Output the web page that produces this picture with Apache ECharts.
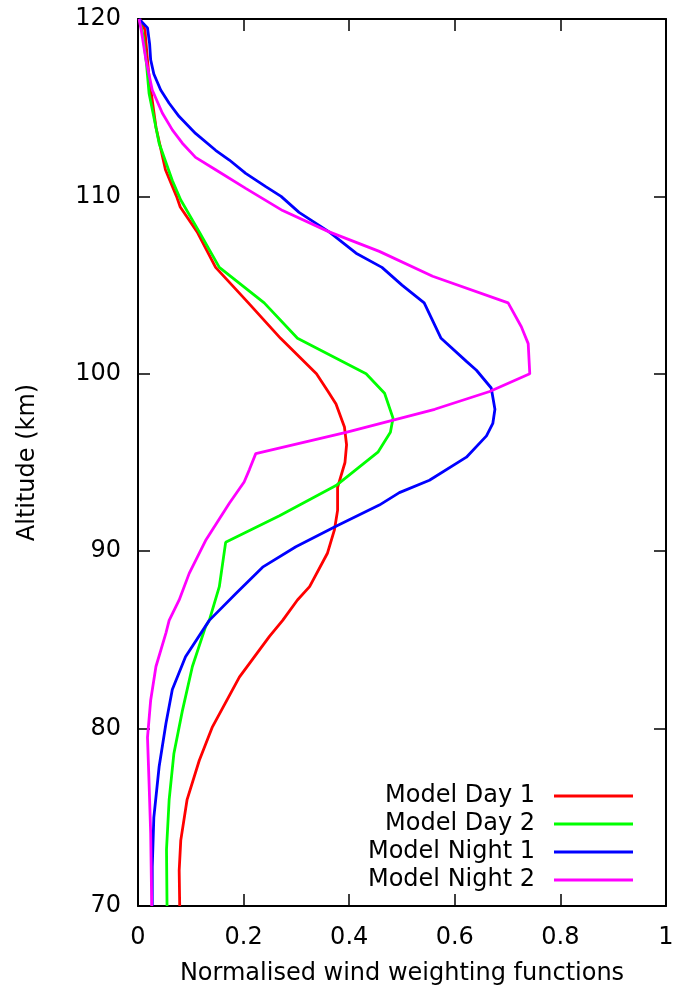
<!DOCTYPE html>
<html>
<head>
<meta charset="utf-8">
<script src="https://cdn.jsdelivr.net/npm/echarts@6/dist/echarts.min.js"></script>
<style>
  html, body { margin: 0; padding: 0; background: #fff; }
  #chart { width: 680px; height: 989px; }
</style>
</head>
<body>
<div id="chart"></div>
<script>
// Wind weighting function profiles: altitude (km) and normalised weight
const seriesNames = ['Model Day 1', 'Model Day 2', 'Model Night 1', 'Model Night 2'];
const seriesColors = ['#ff0000', '#00ff00', '#0000ff', '#ff00ff'];

const day1Alt = [120, 119.4, 118, 116.7, 113.9, 111.5, 110, 109.4, 108, 106, 104, 102, 100, 99, 98.3, 97, 96, 95, 93.6, 92.3, 91.2, 89.9, 88, 87.25, 86.1, 85.2, 82.9, 80.1, 78.2, 76, 73.7, 72, 70];
const day1Val = [0.004, 0.013, 0.017, 0.021, 0.034, 0.052, 0.073, 0.08, 0.112, 0.147, 0.209, 0.27, 0.338, 0.36, 0.375, 0.391, 0.395, 0.392, 0.378, 0.378, 0.372, 0.359, 0.325, 0.302, 0.274, 0.249, 0.192, 0.141, 0.116, 0.093, 0.081, 0.078, 0.079];

const day2Alt = [120, 119, 117.5, 115.8, 113, 110.9, 109.8, 108, 106, 104, 102, 100, 98.9, 97.5, 96.7, 95.6, 93.7, 92, 90.5, 88, 86.1, 85.75, 83.5, 81, 78.6, 76, 73.2, 70];
const day2Val = [0.003, 0.01, 0.016, 0.021, 0.04, 0.065, 0.081, 0.116, 0.154, 0.239, 0.302, 0.432, 0.467, 0.483, 0.478, 0.455, 0.375, 0.268, 0.166, 0.154, 0.135, 0.128, 0.103, 0.084, 0.068, 0.059, 0.054, 0.055];

const night1Alt = [120, 119.5, 118.6, 117.7, 116.9, 116, 115.25, 114.5, 113.55, 112.6, 112.05, 111.3, 110.55, 110, 109.1, 108, 106.8, 106, 105, 104, 102, 100.7, 100.2, 99.2, 98, 97.2, 96.5, 95.3, 94, 93.3, 92.6, 91.4, 90.25, 89.1, 87.6, 86.1, 84.05, 82.2, 80.3, 77.85, 75, 72.2, 70];
const night1Val = [0.002, 0.018, 0.022, 0.024, 0.03, 0.043, 0.059, 0.078, 0.109, 0.147, 0.173, 0.204, 0.242, 0.271, 0.305, 0.362, 0.413, 0.462, 0.5, 0.542, 0.574, 0.622, 0.641, 0.669, 0.676, 0.672, 0.66, 0.622, 0.552, 0.495, 0.457, 0.375, 0.299, 0.236, 0.185, 0.135, 0.09, 0.065, 0.053, 0.04, 0.03, 0.027, 0.027];

const night2Alt = [120, 119.4, 117.7, 116, 114.7, 113.75, 113, 112.2, 111.5, 110.45, 109.2, 108, 106.9, 105.5, 104, 102.65, 101.7, 100, 99, 98, 96.7, 95.5, 94.6, 93.9, 92.7, 90.6, 88.75, 87.25, 86.1, 85.4, 83.5, 81.6, 79.5, 76.9, 74.1, 70];
const night2Val = [0.002, 0.006, 0.015, 0.027, 0.046, 0.065, 0.084, 0.109, 0.147, 0.204, 0.274, 0.362, 0.457, 0.558, 0.701, 0.726, 0.739, 0.742, 0.666, 0.562, 0.394, 0.223, 0.211, 0.201, 0.173, 0.128, 0.097, 0.078, 0.059, 0.053, 0.034, 0.024, 0.018, 0.021, 0.024, 0.026];

const xTicks = [0, 0.2, 0.4, 0.6, 0.8, 1];
const yTicks = [70, 80, 90, 100, 110, 120];

const profiles = [
  [day1Alt, day1Val],
  [day2Alt, day2Val],
  [night1Alt, night1Val],
  [night2Alt, night2Val]
];

const FONT = 'DejaVu Sans';
const textBase = { fontFamily: FONT, fontSize: 24, color: '#000' };
const frameLine = { show: true, onZero: false, lineStyle: { color: '#000', width: 2 } };
const innerTick = { show: true, inside: true, length: 12, lineStyle: { color: '#000', width: 1.5 } };

const chart = echarts.init(document.getElementById('chart'), null, { renderer: 'canvas' });

const xBase = {
  type: 'value', min: xTicks[0], max: xTicks[xTicks.length - 1], interval: 0.2,
  splitLine: { show: false }, axisLine: frameLine, axisTick: innerTick
};
const yBase = {
  type: 'value', min: yTicks[0], max: yTicks[yTicks.length - 1], interval: 10,
  splitLine: { show: false }, axisLine: frameLine, axisTick: innerTick
};

const legendRows = [784, 812, 840, 868];

chart.setOption({
  animation: false,
  backgroundColor: '#fff',
  grid: { left: 138, right: 14, top: 19, bottom: 83, containLabel: false, outerBoundsMode: 'none' },
  xAxis: [
    Object.assign({}, xBase, {
      position: 'bottom',
      name: 'Normalised wind weighting functions',
      nameLocation: 'middle', nameGap: 56,
      nameTextStyle: textBase,
      axisLabel: Object.assign({ margin: 20 }, textBase)
    }),
    Object.assign({}, xBase, { position: 'top', axisLabel: { show: false } })
  ],
  yAxis: [
    Object.assign({}, yBase, {
      position: 'left',
      name: 'Altitude (km)',
      nameLocation: 'middle', nameGap: 98, nameRotate: 90,
      nameTextStyle: textBase,
      axisLabel: Object.assign({ margin: 17 }, textBase)
    }),
    Object.assign({}, yBase, { position: 'right', axisLabel: { show: false } })
  ],
  legend: seriesNames.map((name, i) => ({
    data: [name],
    orient: 'vertical',
    right: 47,
    top: legendRows[i],
    padding: 0,
    align: 'right',
    icon: 'rect',
    itemWidth: 79,
    itemHeight: 3,
    selectedMode: false,
    textStyle: Object.assign({ padding: [0, 14, 0, 0], lineHeight: 24 }, textBase)
  })),
  series: profiles.map(([alt, val], i) => ({
    name: seriesNames[i],
    type: 'line',
    xAxisIndex: 0,
    yAxisIndex: 0,
    showSymbol: false,
    symbol: 'none',
    color: seriesColors[i],
    lineStyle: { color: seriesColors[i], width: 2.8 },
    data: alt.map((a, k) => [val[k], a])
  }))
});
</script>
</body>
</html>
